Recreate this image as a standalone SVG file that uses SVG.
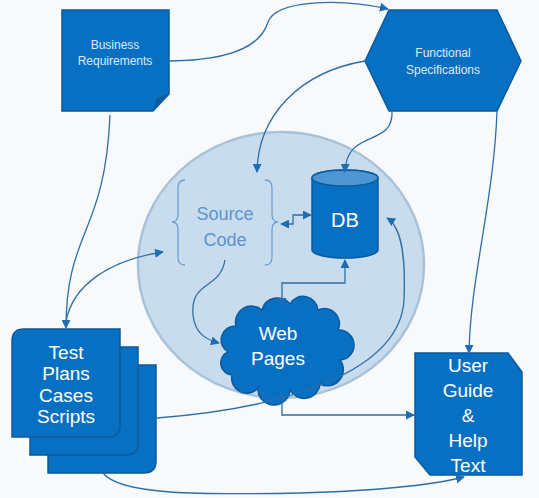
<svg xmlns="http://www.w3.org/2000/svg" width="539" height="498" viewBox="0 0 539 498">
<defs>
<marker id="arr" viewBox="0 0 10 10" markerUnits="userSpaceOnUse" markerWidth="9" markerHeight="9" refX="9" refY="5" orient="auto-start-reverse">
<path d="M0,0 L10,5 L0,10 z" fill="#1d6db3"/>
</marker>
<style>
.node{fill:#0870c3;stroke:#0b5a9c;stroke-width:1.5}
.dark{fill:#0a5c9e}
.lbl{font-family:"Liberation Sans",Arial,sans-serif;fill:#ffffff;text-anchor:middle}
.small{font-size:12px;fill:#dcebfa}
.big{font-size:19px}
.conn{fill:none;stroke:#2d6ea8;stroke-width:1.3}
.src{font-family:"Liberation Sans",Arial,sans-serif;font-size:18px;fill:#5d93cc;text-anchor:middle}
.brace{fill:none;stroke:#6f9fd2;stroke-width:1.3}
</style>
</defs>
<rect width="539" height="498" fill="#f7f9fb"/>
<g id="system-circle">
<ellipse cx="281" cy="265" rx="143" ry="133" fill="#c8dcee" stroke="#a8c2da" stroke-width="2.5"/>
</g>
<g id="business-requirements">
<polygon class="node" points="62,10 169,10 169,94 153,111 62,111"/>
<polygon class="dark" points="153,111 157,98 169,94"/>
<text class="lbl small" x="115" y="49">Business</text>
<text class="lbl small" x="115" y="65">Requirements</text>
</g>
<g id="functional-specifications">
<polygon class="node" points="365,61 389,10 497,10 521,61 497,111 389,111"/>
<text class="lbl small" x="443" y="57">Functional</text>
<text class="lbl small" x="443" y="74">Specifications</text>
</g>
<g id="source-code">
<path class="brace" d="M185,180 Q178,180 178,188 V214 Q178,222 172,222 Q178,222 178,230 V257 Q178,265 185,265"/>
<path class="brace" d="M265,180 Q272,180 272,188 V214 Q272,222 278,222 Q272,222 272,230 V257 Q272,265 265,265"/>
<text class="src" x="225" y="220">Source</text>
<text class="src" x="225" y="246">Code</text>
</g>
<g id="db">
<path class="node" d="M312,178 V250 A33,8 0 0 0 378,250 V178 A33,8 0 0 0 312,178 Z"/>
<ellipse cx="345" cy="178" rx="33" ry="8" fill="#4d95d3" stroke="#0b5a9c" stroke-width="1.5"/>
<text class="lbl" x="345" y="227" font-size="20">DB</text>
</g>
<g id="web-pages">
<path class="node" d="M228,352 A14,14 0 0 1 236,326 A16,16 0 0 1 262,310 A16,16 0 0 1 290,304 A15,15 0 0 1 318,310 A15,15 0 0 1 338,330 A14,14 0 0 1 340,360 A16,16 0 0 1 320,384 A16,16 0 0 1 290,390 A16,16 0 0 1 258,388 A15,15 0 0 1 232,375 A12,12 0 0 1 228,352 Z"/>
<text class="lbl big" x="278" y="340">Web</text>
<text class="lbl big" x="278" y="365">Pages</text>
</g>
<g id="test-plans">
<path class="node" d="M48,365 H156 V461 Q156,473 144,473 H48 Z M48,365"/>
<path class="node" d="M30,359 Q30,347 42,347 H138 V443 Q138,455 126,455 H30 Z"/>
<path class="node" d="M12,341 Q12,329 24,329 H120 V425 Q120,437 108,437 H12 Z"/>
<text class="lbl big" x="66" y="359">Test</text>
<text class="lbl big" x="66" y="380">Plans</text>
<text class="lbl big" x="66" y="402">Cases</text>
<text class="lbl big" x="66" y="423">Scripts</text>
</g>
<g id="user-guide">
<polygon class="node" points="415,353 508,353 522,372 522,475 430,475 415,457"/>
<text class="lbl big" x="468" y="372">User</text>
<text class="lbl big" x="468" y="397">Guide</text>
<text class="lbl big" x="468" y="422">&amp;</text>
<text class="lbl big" x="468" y="447">Help</text>
<text class="lbl big" x="468" y="472">Text</text>
</g>
<g id="connectors">
<path class="conn" d="M170,61 C240,60 262,42 268,22 C276,0 340,-2 388,9" marker-end="url(#arr)"/>
<path class="conn" d="M110,115 C105,235 66,230 66,328" marker-end="url(#arr)"/>
<path class="conn" d="M66,322 C72,285 110,260 163,252" marker-end="url(#arr)"/>
<path class="conn" d="M365,61 C300,72 258,115 257,172" marker-end="url(#arr)"/>
<path class="conn" d="M392,111 C394,148 346,128 345,172" marker-end="url(#arr)"/>
<path class="conn" d="M497,111 C494,200 470,280 469,353" marker-end="url(#arr)"/>
<path class="conn" d="M281,224 H293 V215 H311" marker-start="url(#arr)" marker-end="url(#arr)"/>
<path class="conn" d="M345,260 V283 H282 V306" marker-start="url(#arr)" marker-end="url(#arr)"/>
<path class="conn" d="M225,260 C220,290 190,280 193,315 C195,335 208,340 219,343" marker-end="url(#arr)"/>
<path class="conn" d="M157,418 C290,408 400,370 404,300 C406,250 400,226 387,218" marker-end="url(#arr)"/>
<path class="conn" d="M282,393 V415 H414" marker-start="url(#arr)" marker-end="url(#arr)"/>
<path class="conn" d="M103,473 C120,495 200,495 300,493 C400,490 440,483 464,477" marker-end="url(#arr)"/>
</g>
</svg>
